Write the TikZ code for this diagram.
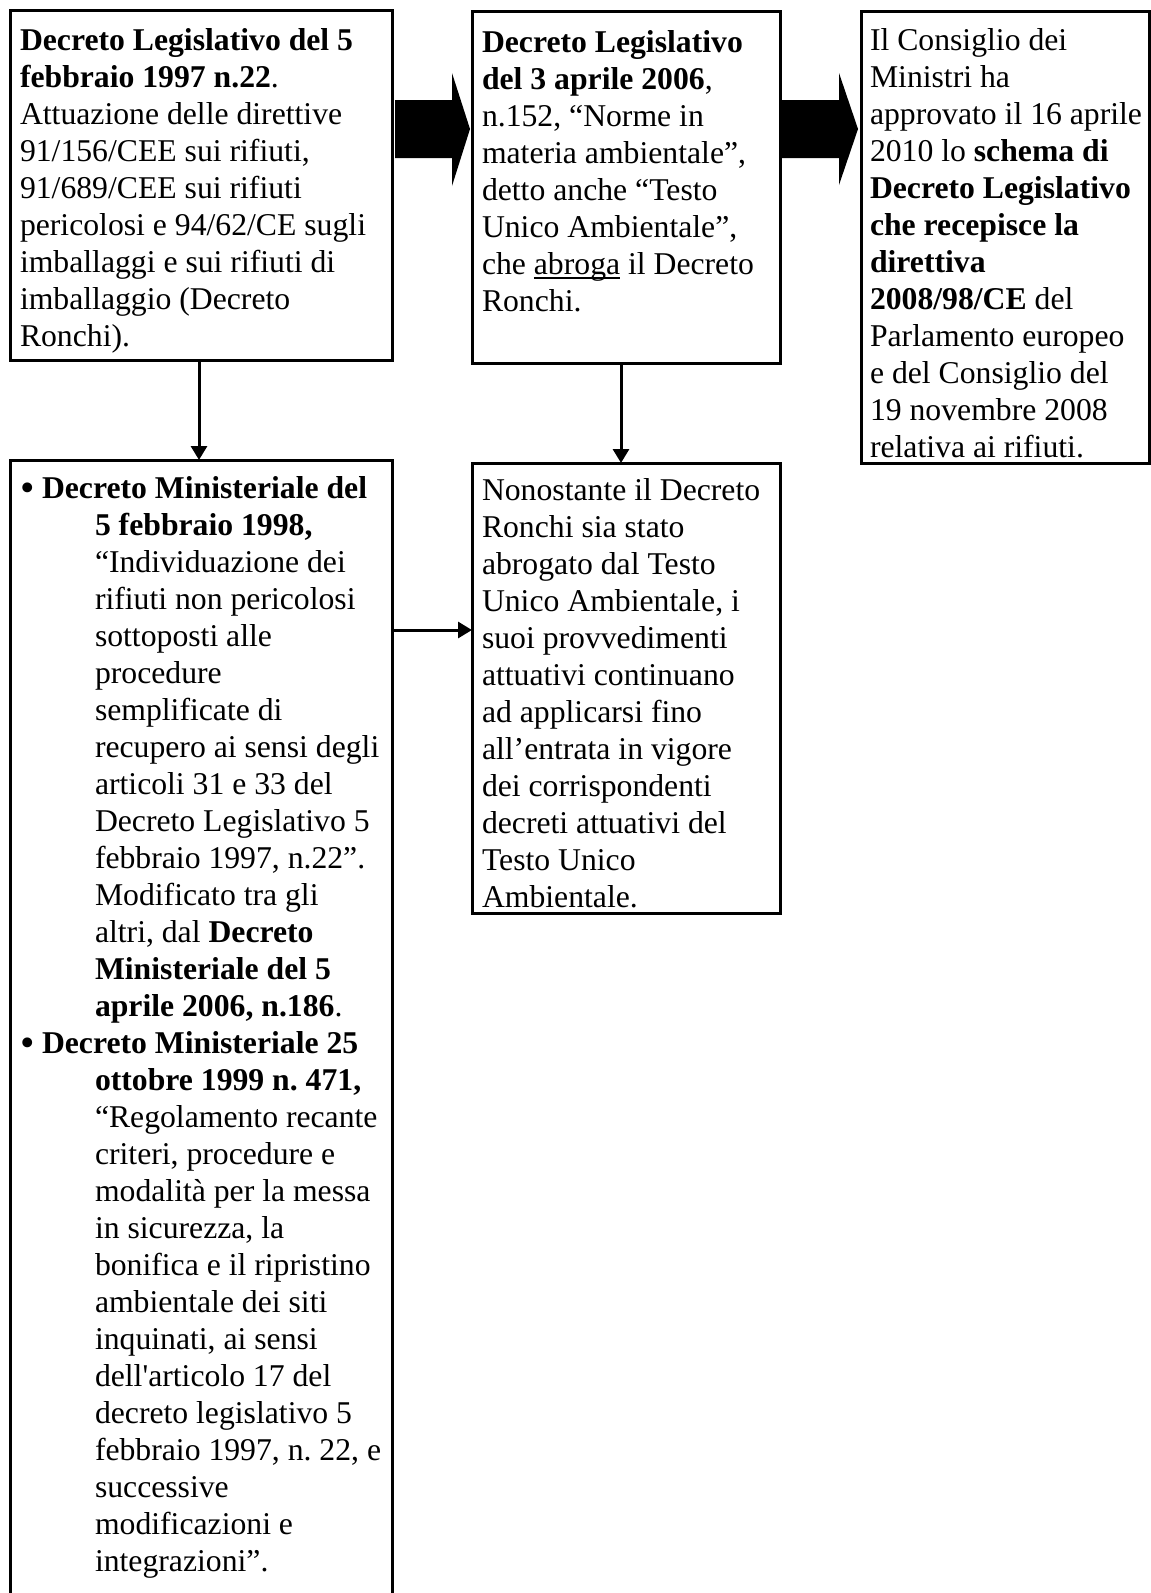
\documentclass[tikz,border=0pt]{standalone}
\usepackage{fontspec}
\usepackage{graphicx}
\newfontfamily\lib{Liberation Serif}
\usetikzlibrary{calc,arrows.meta}
% underline at a fixed depth below the baseline
\newcommand\undl[1]{\setbox0\hbox{#1}\rlap{\rule[-5pt]{\wd0}{1.6pt}}#1}
% hanging indent of the bulleted entries
\newcommand\ind{\hspace*{75pt}}
\newcommand\blt{\makebox[22pt][l]{\raisebox{-3.5pt}{\scalebox{1.3}{•}}}}
\begin{document}
\begin{tikzpicture}[x=1pt,y=-1pt,
  box/.style={draw, line width=3pt, rectangle, inner sep=0pt, outer sep=0pt, anchor=north west},
  txt/.style={anchor=north west, inner sep=0pt, outer sep=0pt, align=left,
              font=\lib\fontsize{31.7}{37}\selectfont\frenchspacing},
  link/.style={line width=3pt, -{Triangle[length=14pt,width=16pt]}},
  blockarrow/.style={fill=black}]
\useasboundingbox (0,0) rectangle (1151,1593);
\clip (0,0) rectangle (1151,1593);

% frames
\node[box, minimum width=382pt, minimum height=350pt] (b1) at (10,10) {};
\node[box, minimum width=308pt, minimum height=352pt] (b2) at (472,11) {};
\node[box, minimum width=288pt, minimum height=452pt] (b3) at (861,11) {};
\node[box, minimum width=382pt, minimum height=1200pt] (b4) at (10,460) {};
\node[box, minimum width=308pt, minimum height=450pt] (b5) at (472,463) {};

% texts
\node[txt] (t1) at (20,24.1) {\strut\textbf{Decreto Legislativo del 5}\\
\textbf{febbraio 1997 n.22}.\\
Attuazione delle direttive\\
91/156/CEE sui rifiuti,\\
91/689/CEE sui rifiuti\\
pericolosi e 94/62/CE sugli\\
imballaggi e sui rifiuti di\\
imballaggio (Decreto\\
Ronchi).};

\node[txt] (t2) at (482,26.1) {\strut\textbf{Decreto Legislativo}\\
\textbf{del 3 aprile 2006},\\
n.152, “Norme in\\
materia ambientale”,\\
detto anche “Testo\\
Unico Ambientale”,\\
che \undl{abroga} il Decreto\\
Ronchi.};

\node[txt] (t3) at (870,24.1) {\strut Il Consiglio dei\\
Ministri ha\\
approvato il 16 aprile\\
2010 lo \textbf{schema di}\\
\textbf{Decreto Legislativo}\\
\textbf{che recepisce la}\\
\textbf{direttiva}\\
\textbf{2008/98/CE} del\\
Parlamento europeo\\
e del Consiglio del\\
19 novembre 2008\\
relativa ai rifiuti.};

\node[txt] (t4) at (20,472.1) {\strut\blt\textbf{Decreto Ministeriale del}\\
\ind\textbf{5 febbraio 1998,}\\
\ind“Individuazione dei\\
\ind rifiuti non pericolosi\\
\ind sottoposti alle\\
\ind procedure\\
\ind semplificate di\\
\ind recupero ai sensi degli\\
\ind articoli 31 e 33 del\\
\ind Decreto Legislativo 5\\
\ind febbraio 1997, n.22”.\\
\ind Modificato tra gli\\
\ind altri, dal \textbf{Decreto}\\
\ind\textbf{Ministeriale del 5}\\
\ind\textbf{aprile 2006, n.186}.\\
\blt\textbf{Decreto Ministeriale 25}\\
\ind\textbf{ottobre 1999 n. 471,}\\
\ind“Regolamento recante\\
\ind criteri, procedure e\\
\ind modalità per la messa\\
\ind in sicurezza, la\\
\ind bonifica e il ripristino\\
\ind ambientale dei siti\\
\ind inquinati, ai sensi\\
\ind dell'articolo 17 del\\
\ind decreto legislativo 5\\
\ind febbraio 1997, n. 22, e\\
\ind successive\\
\ind modificazioni e\\
\ind integrazioni”.};

\node[txt] (t5) at (482,474.1) {\strut Nonostante il Decreto\\
Ronchi sia stato\\
abrogato dal Testo\\
Unico Ambientale, i\\
suoi provvedimenti\\
attuativi continuano\\
ad applicarsi fino\\
all’entrata in vigore\\
dei corrispondenti\\
decreti attuativi del\\
Testo Unico\\
Ambientale.};

% thick block arrows between the top frames
\coordinate (p1) at (b1.east |- 0,129);
\coordinate (q1) at ($(b2.west |- 0,129)+(-2,0)$);
\fill[blockarrow] ($(p1)+(3,-29)$) -- ($(q1)+(-18,-29)$) -- ($(q1)+(-18,-56)$) -- (q1)
  -- ($(q1)+(-18,57)$) -- ($(q1)+(-18,29)$) -- ($(p1)+(3,29)$) -- cycle;
\coordinate (p2) at (b2.east |- 0,129);
\coordinate (q2) at ($(b3.west |- 0,129)+(-3,0)$);
\fill[blockarrow] ($(p2)+(2,-29)$) -- ($(q2)+(-19,-29)$) -- ($(q2)+(-19,-56)$) -- (q2)
  -- ($(q2)+(-19,56)$) -- ($(q2)+(-19,29)$) -- ($(p2)+(2,29)$) -- cycle;

% thin connectors
\coordinate (d1) at ($(b1.south)+(-2,0)$);
\draw[link] (d1) -- (d1 |- b4.north);
\coordinate (d2) at ($(b2.south)+(-5,0)$);
\draw[link] (d2) -- (d2 |- b5.north);
\draw[link] (b4.east |- 0,630) -- (b5.west |- 0,630);
\end{tikzpicture}
\end{document}
